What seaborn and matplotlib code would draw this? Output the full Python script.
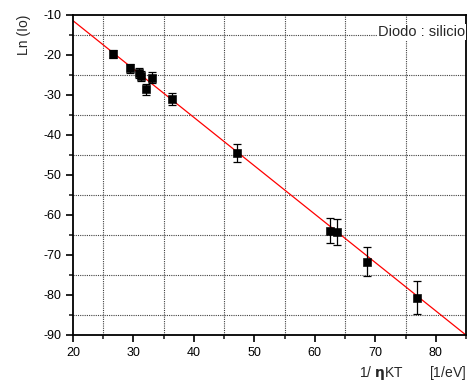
import numpy as np
import pandas as pd
import matplotlib
matplotlib.use('Agg')
import matplotlib.pyplot as plt
from matplotlib.ticker import MultipleLocator
import seaborn as sns

# data
inv_nkt = [26.6, 29.5, 30.9, 31.3, 32.1, 33.0, 36.3, 47.2, 62.5, 63.7, 68.7, 76.9]
ln_io = [-19.8, -23.4, -24.5, -25.3, -28.6, -25.7, -31.0, -44.6, -64.0, -64.2, -71.7, -80.7]
ln_io_err = [1.0, 1.2, 1.2, 1.3, 1.4, 1.3, 1.5, 2.2, 3.1, 3.2, 3.6, 4.1]

# linear fit shown as the red line
fit_slope = -1.208
fit_intercept = 12.66
fit_x = [20, 85]

df = pd.DataFrame({'x': inv_nkt, 'y': ln_io, 'err': ln_io_err})
fit_df = pd.DataFrame({'x': fit_x, 'y': [fit_intercept + fit_slope * v for v in fit_x]})

sns.set_style('ticks')
plt.rcParams['font.family'] = ['Liberation Sans', 'DejaVu Sans']
plt.rcParams['axes.unicode_minus'] = False
plt.rcParams['mathtext.fontset'] = 'custom'
plt.rcParams['mathtext.bf'] = 'DejaVu Sans:bold'

fig = plt.figure(figsize=(4.69, 3.85), dpi=100)
ax = fig.add_axes([0.1557, 0.1299, 0.8379, 0.8319])

sns.lineplot(data=fit_df, x='x', y='y', color='red', lw=0.9, ax=ax, zorder=2)
ax.errorbar(df['x'], df['y'], yerr=df['err'], fmt='none', ecolor='black',
            elinewidth=0.9, capsize=3, capthick=0.9, zorder=3)
sns.scatterplot(data=df, x='x', y='y', marker='s', color='black', s=30,
                edgecolor='black', ax=ax, zorder=4)

ax.set_xlim(20, 85)
ax.set_ylim(-90, -10)
ax.xaxis.set_major_locator(MultipleLocator(10))
ax.xaxis.set_minor_locator(MultipleLocator(5))
ax.yaxis.set_major_locator(MultipleLocator(10))
ax.yaxis.set_minor_locator(MultipleLocator(5))

# grid sits on the in-between positions
for v in [25, 35, 45, 55, 65, 75]:
    ax.axvline(v, color='0.25', ls=(0, (1, 1)), lw=0.8, zorder=1)
for v in [-15, -25, -35, -45, -55, -65, -75, -85]:
    ax.axhline(v, color='0.25', ls=(0, (1, 1)), lw=0.8, zorder=1)

ax.tick_params(which='major', direction='out', length=5, width=1.2, labelsize=9, colors='black')
ax.tick_params(which='minor', direction='out', length=3, width=1.2)
for s in ax.spines.values():
    s.set_linewidth(1.3)
    s.set_color('black')
    s.set_visible(True)

ax.set_xlabel(r'1/ $\mathbf{\eta}$KT       [1/eV]', loc='right', fontsize=10, labelpad=4)
ax.set_ylabel('Ln (Io)', loc='top', fontsize=10, labelpad=9)

ax.text(0.997, 0.946, 'Diodo : silicio', transform=ax.transAxes, ha='right', va='center',
        fontsize=10.5, bbox=dict(facecolor='white', edgecolor='none', pad=0.5), zorder=5)

fig.savefig('out.png', dpi=100)
